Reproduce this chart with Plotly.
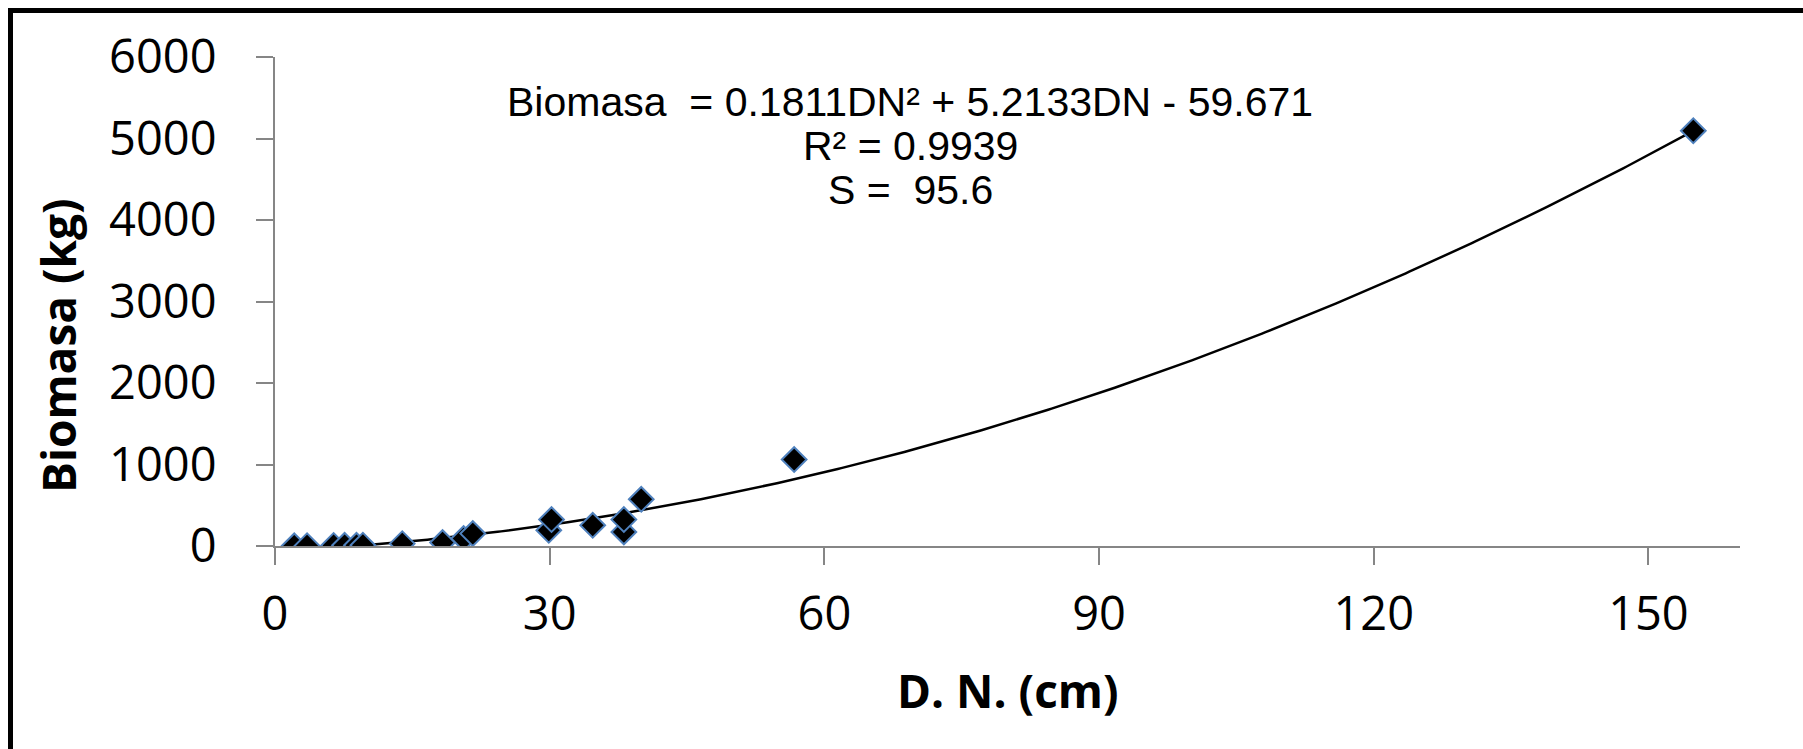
import plotly.graph_objects as go
import numpy as np

# Data
dn_cm = [2.1, 3.5, 6.4, 7.6, 8.9, 9.6, 13.9, 18.3, 20.6, 21.6, 29.9, 30.2, 34.7, 38.1, 38.1, 40.0, 56.7, 154.9]
biomasa_kg = [2, 3, 6, 8, 9, 10, 29, 42, 91, 152, 193, 324, 254, 172, 324, 573, 1061, 5095]

# Trendline coefficients (from the displayed equation)
coef_a = 0.1811
coef_b = 5.2133
coef_c = -59.671

x_ticks = [0, 30, 60, 90, 120, 150]
y_ticks = [0, 1000, 2000, 3000, 4000, 5000, 6000]

W, H = 1803, 749
L, R, T, B = 275, 63, 57, 203
PW = W - L - R
PH = H - T - B

def px(x):
    return (x - L) / PW

def py(y):
    return (H - B - y) / PH

xs = np.linspace(min(dn_cm), max(dn_cm), 400)
ys = coef_a * xs**2 + coef_b * xs + coef_c

fig = go.Figure()
fig.add_trace(go.Scatter(x=xs, y=ys, mode="lines",
                         line=dict(color="black", width=2.5),
                         hoverinfo="skip", showlegend=False))
fig.add_trace(go.Scatter(x=dn_cm, y=biomasa_kg, mode="markers",
                         marker=dict(symbol="diamond", size=19, color="black",
                                     line=dict(color="#4F81BD", width=2)),
                         showlegend=False))

axis_common = dict(showgrid=False, zeroline=False, showline=True,
                   linecolor="#868686", linewidth=2, ticks="outside",
                   ticklen=17, tickcolor="#868686", tickwidth=2,
                   tickfont=dict(family="Open Sans", size=47, color="black"))

fig.update_xaxes(range=[0, 160], tickvals=x_ticks, ticklabelstandoff=9, **axis_common)
fig.update_yaxes(range=[0, 6000], tickvals=y_ticks, ticklabelstandoff=30, **axis_common)

eq_font = dict(family="Liberation Sans", size=41, color="black")
title_font = dict(family="Open Sans", size=46, color="black")

fig.update_layout(
    width=W, height=H,
    margin=dict(l=L, r=R, t=T, b=B),
    paper_bgcolor="white", plot_bgcolor="white",
    shapes=[
        dict(type="line", xref="paper", yref="paper",
             x0=px(10.5), x1=px(W), y0=py(10.5), y1=py(10.5),
             line=dict(color="black", width=5)),
        dict(type="line", xref="paper", yref="paper",
             x0=px(10.5), x1=px(10.5), y0=py(8), y1=py(H),
             line=dict(color="black", width=5)),
    ],
    annotations=[
        dict(text="<b>D. N. (cm)</b>", xref="paper", yref="paper",
             x=px(1008), y=py(690), showarrow=False,
             xanchor="center", yanchor="middle", font=title_font),
        dict(text="<b>Biomasa (kg)</b>", xref="paper", yref="paper",
             x=px(58), y=py(346), showarrow=False, textangle=-90,
             xanchor="center", yanchor="middle", font=title_font),
        dict(text="Biomasa &nbsp;= 0.1811DN² + 5.2133DN - 59.671",
             xref="paper", yref="paper", x=px(910), y=py(102), showarrow=False,
             xanchor="center", yanchor="middle", font=eq_font),
        dict(text="R² = 0.9939",
             xref="paper", yref="paper", x=px(910), y=py(146), showarrow=False,
             xanchor="center", yanchor="middle", font=eq_font),
        dict(text="S = &nbsp;95.6",
             xref="paper", yref="paper", x=px(910), y=py(190), showarrow=False,
             xanchor="center", yanchor="middle", font=eq_font),
    ],
)

fig.write_html("out.html", config={"displayModeBar": False},
               post_script="document.body.style.margin='0';document.body.style.overflow='hidden';")
